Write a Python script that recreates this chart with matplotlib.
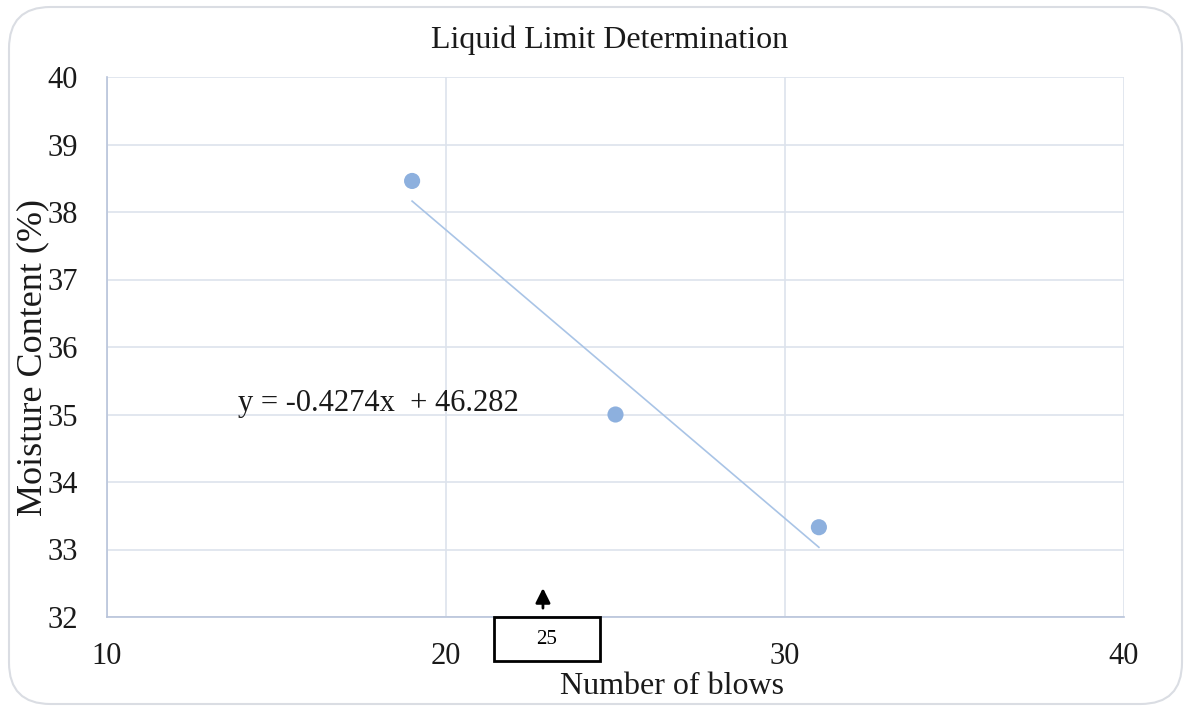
import matplotlib
matplotlib.use("Agg")
import matplotlib.pyplot as plt
from matplotlib.patches import FancyBboxPatch, Rectangle
import numpy as np

# Liquid limit test: blow counts and moisture contents
blows = [19, 25, 31]
moisture = [38.46, 35.0, 33.33]

# Fitted linear trendline
slope = -0.4274
intercept = 46.282
equation_label = "y = -0.4274x  + 46.282"

x_ticks = [10, 20, 30, 40]
y_ticks = [32, 33, 34, 35, 36, 37, 38, 39, 40]

W, H = 1184, 706
fig = plt.figure(figsize=(W / 100, H / 100), dpi=100)
plt.rcParams["font.family"] = ["Liberation Serif", "DejaVu Serif"]

# Rounded chart border
border = FancyBboxPatch((9 / W, 1 - 704 / H), (1182 - 9) / W, (704 - 7) / H,
                        boxstyle="round,pad=0,rounding_size=0.035",
                        transform=fig.transFigure, facecolor="none",
                        edgecolor="#DADDE3", linewidth=1.5,
                        mutation_aspect=W / H, zorder=10)
fig.patches.append(border)

ax = fig.add_axes([107 / W, 1 - 617 / H, (1124 - 107) / W, (617 - 77) / H])
ax.set_xlim(10, 40)
ax.set_ylim(32, 40)
ax.set_xticks(x_ticks)
ax.set_yticks(y_ticks)
ax.tick_params(length=0, labelsize=22, colors="#1a1a1a")
ax.tick_params(axis="y", pad=21)
ax.tick_params(axis="x", pad=18)
ax.grid(True, color="#DDE3EC", linewidth=1.2)
ax.set_axisbelow(True)
for side in ("top", "right"):
    ax.spines[side].set_visible(False)
for side in ("left", "bottom"):
    ax.spines[side].set_color("#B8C4DA")
    ax.spines[side].set_linewidth(1.2)

# Trendline over the range of the data
xf = np.array([min(blows), max(blows)])
ax.plot(xf, slope * xf + intercept, color="#A9C4E6", linewidth=1.2, zorder=2)
ax.scatter(blows, moisture, s=135, color="#8DB0DE", edgecolors="none", zorder=3)

ax.text(13.85, 34.95, equation_label, fontsize=22, ha="left", va="bottom",
        color="#1a1a1a")

# Marker for 25 blows below the axis
ax.add_patch(Rectangle((21.42, 31.35), 24.54 - 21.42, 0.65, fill=False,
                       edgecolor="black", linewidth=2, clip_on=False, zorder=5))
ax.text((21.42 + 24.54) / 2, 31.67, "25", fontsize=15, ha="center",
        va="center", color="black")
ax.annotate("", xy=(22.86, 32.47), xytext=(22.86, 32.09),
            arrowprops=dict(arrowstyle="-|>", color="black", lw=2,
                            mutation_scale=22),
            annotation_clip=False)

fig.text(610 / W, 1 - 40 / H, "Liquid Limit Determination", fontsize=23,
         ha="center", va="center", color="#1a1a1a")
fig.text(672 / W, 1 - 687 / H, "Number of blows", fontsize=23,
         ha="center", va="center", color="#1a1a1a")
fig.text(33 / W, 1 - 357 / H, "Moisture Content (%)", fontsize=26,
         ha="center", va="center", rotation=90, color="#1a1a1a")

fig.savefig("out.png", dpi=100, facecolor="white")
